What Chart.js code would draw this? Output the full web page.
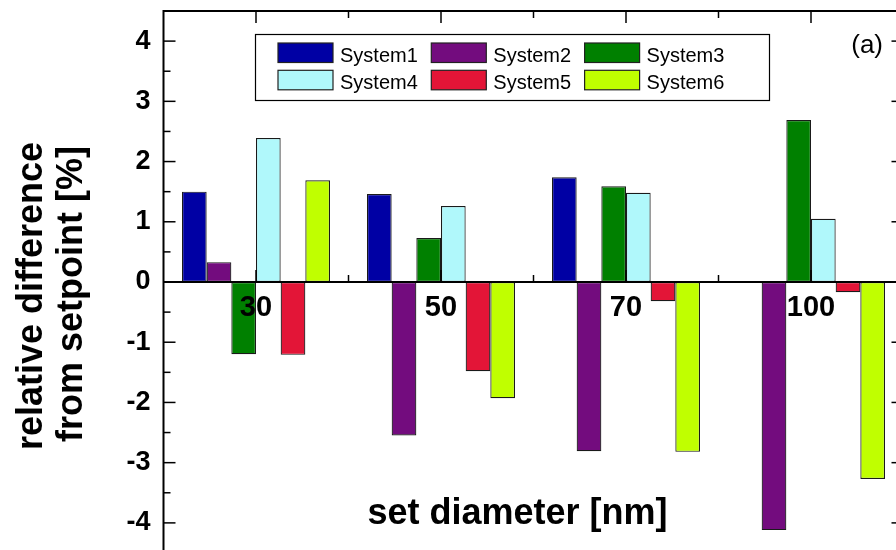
<!DOCTYPE html>
<html><head><meta charset="utf-8">
<script src="https://cdn.jsdelivr.net/npm/chart.js@4/dist/chart.umd.min.js"></script>
<style>
html,body{margin:0;padding:0;overflow:hidden;background:#fff;width:896px;height:550px}
canvas{display:block}
</style>
</head><body>
<canvas id="c" width="906" height="557"></canvas>
<script>
const categories = ['30', '50', '70', '100'];
const seriesNames = ['System1', 'System2', 'System3', 'System4', 'System5', 'System6'];
const system1 = [1.50, 1.46, 1.74, null];
const system2 = [0.33, -2.55, -2.81, -4.12];
const system3 = [-1.20, 0.73, 1.59, 2.69];
const system4 = [2.39, 1.26, 1.48, 1.05];
const system5 = [-1.21, -1.48, -0.32, -0.17];
const system6 = [1.69, -1.93, -2.82, -3.27];
const yTickValues = [-4, -3, -2, -1, 0, 1, 2, 3, 4];
const yTitleLines = ['relative difference', 'from setpoint [%]'];
const xTitle = 'set diameter [nm]';
const panelLabel = '(a)';
const seriesColors = ['#0000a4', '#730c7e', '#008000', '#b0f8fb', '#e31537', '#c0ff00'];

const seriesValues = [system1, system2, system3, system4, system5, system6];

const decorPlugin = {
  id: 'decor',
  afterDatasetsDraw(chart) {
    const {ctx, chartArea: a, scales: {x, y}} = chart;
    ctx.save();
    ctx.strokeStyle = '#000';
    ctx.lineWidth = 2;
    ctx.strokeRect(a.left, a.top, a.right - a.left, a.bottom - a.top);
    const y0 = y.getPixelForValue(0);
    ctx.beginPath(); ctx.moveTo(a.left, y0); ctx.lineTo(a.right, y0); ctx.stroke();
    ctx.lineWidth = 1.5;
    const seg = (x1, y1, x2, y2) => { ctx.beginPath(); ctx.moveTo(x1, y1); ctx.lineTo(x2, y2); ctx.stroke(); };
    for (let v = y.min; v <= y.max + 1e-9; v += 0.5) {
      const py = y.getPixelForValue(v);
      const len = Math.abs(v - Math.round(v)) < 1e-6 ? 12 : 7;
      seg(a.left, py, a.left + len, py);
      seg(a.right, py, a.right - len, py);
    }
    for (let i = 0; i < categories.length; i++) {
      const px = x.getPixelForValue(i);
      seg(px, a.top, px, a.top + 12);
      seg(px, y0, px, y0 - 12);
      if (i < categories.length - 1) {
        const bx = (px + x.getPixelForValue(i + 1)) / 2;
        seg(bx, a.top, bx, a.top + 7);
        seg(bx, y0, bx, y0 - 7);
      }
    }
    ctx.restore();
  },
  afterDraw(chart) {
    const {ctx} = chart;
    ctx.save();
    // legend
    const lx = 255, ly = 34, lw = 514, lh = 66;
    ctx.fillStyle = '#fff';
    ctx.fillRect(lx, ly, lw, lh);
    ctx.strokeStyle = '#000';
    ctx.lineWidth = 1.2;
    ctx.strokeRect(lx + 0.5, ly + 0.5, lw, lh);
    ctx.font = '20px "Liberation Sans", Arial, sans-serif';
    ctx.textAlign = 'left';
    ctx.textBaseline = 'alphabetic';
    chart.data.datasets.forEach((ds, i) => {
      const col = i % 3, row = Math.floor(i / 3);
      const sx = 278 + col * 153.3;
      const sy = 43 + row * 27.3;
      ctx.fillStyle = ds.backgroundColor;
      ctx.fillRect(sx, sy, 55, 19.5);
      ctx.strokeStyle = '#222';
      ctx.lineWidth = 1.2;
      ctx.strokeRect(sx, sy, 55, 19.5);
      ctx.fillStyle = '#000';
      ctx.fillText(ds.label, sx + 62, sy + 19);
    });
    // panel label
    ctx.font = '26px "Liberation Sans", Arial, sans-serif';
    ctx.textAlign = 'right';
    ctx.fillText(panelLabel, 883, 53);
    // x title
    ctx.font = 'bold 36px "Liberation Sans", Arial, sans-serif';
    ctx.textAlign = 'center';
    ctx.fillText(xTitle, 517.5, 524);
    // y title
    ctx.font = 'bold 36px "Liberation Sans", Arial, sans-serif';
    const yPos = [[42, 296], [82, 294]];
    yTitleLines.forEach((t, i) => {
      ctx.save();
      ctx.translate(yPos[i][0], yPos[i][1]);
      ctx.rotate(-Math.PI / 2);
      ctx.fillText(t, 0, 0);
      ctx.restore();
    });
    ctx.restore();
  }
};

new Chart(document.getElementById('c'), {
  type: 'bar',
  data: {
    labels: categories,
    datasets: seriesNames.map((name, i) => ({
      label: name,
      data: seriesValues[i],
      backgroundColor: seriesColors[i],
      borderColor: '#1a1a1a',
      borderWidth: 1.2,
      borderSkipped: false
    }))
  },
  options: {
    responsive: false,
    animation: false,
    layout: {padding: {left: 0, top: 11, right: 2.5, bottom: 4}},
    datasets: {bar: {categoryPercentage: 0.8, barPercentage: 1.0}},
    plugins: {legend: {display: false}, tooltip: {enabled: false}},
    scales: {
      x: {
        type: 'category',
        position: {y: 0},
        grid: {display: false, drawTicks: false},
        border: {display: false},
        afterFit(scale) {
          scale.height = 0;
          scale.paddingLeft = 0; scale.paddingRight = 0;
          scale.paddingTop = 0; scale.paddingBottom = 0;
        },
        ticks: {
          z: 1,
          color: '#000',
          padding: 9,
          maxRotation: 0,
          font: {family: '"Liberation Sans", Arial, sans-serif', size: 29, weight: 'bold'}
        }
      },
      y: {
        min: -4.5,
        max: 4.5,
        grid: {display: false, drawTicks: false},
        border: {display: false},
        afterFit(scale) {
          scale.width = 163.5;
          scale.paddingTop = 0; scale.paddingBottom = 0;
          scale.paddingLeft = 0; scale.paddingRight = 0;
        },
        afterBuildTicks(scale) { scale.ticks = yTickValues.map(v => ({value: v})); },
        ticks: {
          color: '#000',
          padding: 13,
          callback: v => String(v),
          font: {family: '"Liberation Sans", Arial, sans-serif', size: 27, weight: 'bold'}
        }
      }
    }
  },
  plugins: [decorPlugin]
});
</script>
</body></html>
